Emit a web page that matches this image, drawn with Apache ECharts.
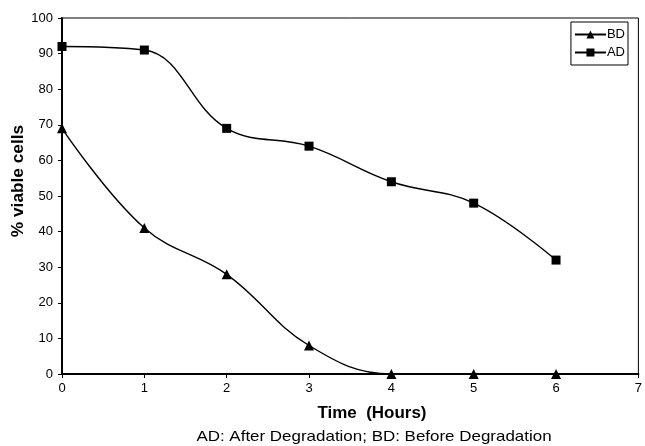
<!DOCTYPE html>
<html><head><meta charset="utf-8">
<script src="https://cdn.jsdelivr.net/npm/echarts@6/dist/echarts.min.js"></script>
<style>html,body{margin:0;padding:0;background:#fff}#c{width:645px;height:446px}</style>
</head><body><div id="c"></div>
<script>
const hours = [0, 1, 2, 3, 4, 5, 6];
const bdValues = [69, 41, 28, 8, 0, 0, 0];
const adValues = [92, 91, 69, 64, 54, 48, 32];
const seriesNames = ['BD', 'AD'];
const xTitle = 'Time  (Hours)';
const yTitle = '% viable cells';
const caption = 'AD: After Degradation; BD: Before Degradation';

const font = 'Liberation Sans, Arial, sans-serif';
const chart = echarts.init(document.getElementById('c'));
chart.setOption({
  animation: false,
  backgroundColor: '#fff',
  textStyle: { fontFamily: font, color: '#000' },
  grid: { left: 62, right: 4, top: 18, bottom: 72, show: true, borderColor: '#000', borderWidth: 1, backgroundColor: 'transparent' },
  legend: {
    right: 17, top: 22, orient: 'vertical',
    data: seriesNames,
    itemWidth: 31, itemHeight: 10, itemGap: 5,
    borderColor: '#000', borderWidth: 1, padding: [6, 3, 6, 3],
    textStyle: { fontFamily: font, fontSize: 13, color: '#000', padding: [0, 0, 0, -4] }
  },
  graphic: [
    {
      type: 'text', x: 372, y: 414,
      style: { text: xTitle, font: 'bold 16px ' + font, fill: '#000', align: 'center', verticalAlign: 'middle' },
      scaleX: 1.06
    },
    {
      type: 'text', x: 374, y: 437,
      style: { text: caption, font: '15px ' + font, fill: '#000', align: 'center', verticalAlign: 'middle' },
      scaleX: 1.13
    },
    {
      type: 'text', x: 19, y: 181, rotation: Math.PI / 2,
      style: { text: yTitle, font: 'bold 16px ' + font, fill: '#000', align: 'center', verticalAlign: 'middle' },
      scaleX: 1.08
    }
  ],
  xAxis: {
    type: 'value', min: 0, max: 7, interval: 1,
    axisLine: { show: true, onZero: false, lineStyle: { color: '#000', width: 2 } },
    axisTick: { show: true, length: 4, lineStyle: { color: '#000' } },
    axisLabel: { fontFamily: font, fontSize: 13, color: '#000', margin: 8 },
    splitLine: { show: false }
  },
  yAxis: {
    type: 'value', min: 0, max: 100, interval: 10,
    axisLine: { show: true, onZero: false, lineStyle: { color: '#000', width: 2 } },
    axisTick: { show: true, length: 4, lineStyle: { color: '#000' } },
    axisLabel: { fontFamily: font, fontSize: 13, color: '#000', margin: 9 },
    splitLine: { show: false }
  },
  series: [
    {
      name: seriesNames[0], type: 'line', smooth: 0.4,
      data: hours.map((h, i) => [h, bdValues[i]]),
      symbol: 'triangle', symbolSize: 10,
      lineStyle: { color: '#000', width: 1.4 }, itemStyle: { color: '#000' }
    },
    {
      name: seriesNames[1], type: 'line', smooth: 0.4,
      data: hours.map((h, i) => [h, adValues[i]]),
      symbol: 'rect', symbolSize: 9,
      lineStyle: { color: '#000', width: 1.4 }, itemStyle: { color: '#000' }
    }
  ]
});
</script></body></html>
